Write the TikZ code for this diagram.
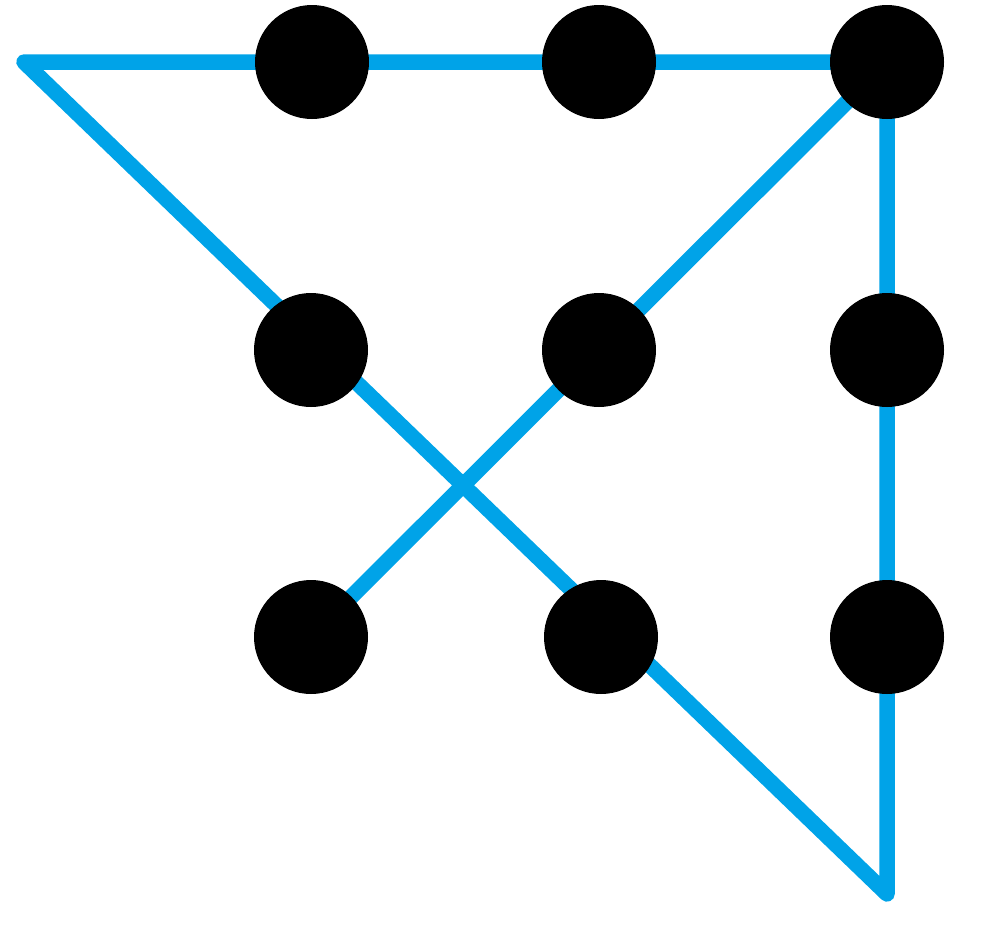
\documentclass[tikz,border=0pt]{standalone}
\usetikzlibrary{backgrounds}
\begin{document}
\begin{tikzpicture}[x=1pt,y=-1pt,
  seg/.style={line width=15.5pt,draw={rgb,255:red,0;green,163;blue,232},line cap=round,line join=round},
  dot/.style={circle,fill=black,minimum size=114pt,inner sep=0pt}]
\useasboundingbox (0,0) rectangle (990,940);
\coordinate (s) at (24,62);
\coordinate (e) at (888,894);
\node[dot] (a1) at (312,62) {};
\node[dot] (a2) at (599,62) {};
\node[dot] (a3) at (887,62) {};
\node[dot] (b1) at (311,350) {};
\node[dot] (b2) at (599,350) {};
\node[dot] (b3) at (887,350) {};
\node[dot] (c1) at (311,637) {};
\node[dot] (c2) at (601,637) {};
\node[dot] (c3) at (887,637) {};
\begin{scope}[on background layer]
\draw[seg] (c1.center) -- (a3.center) -- (a3.center |- e) -- (s) -- (a3.center);
\end{scope}
\end{tikzpicture}
\end{document}
